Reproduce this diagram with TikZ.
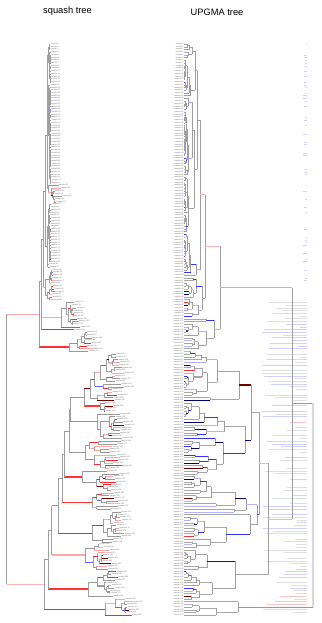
\documentclass[tikz,border=0pt]{standalone}
\usepackage{fontspec}
\setmainfont{Liberation Sans}
\tikzset{
  hl/.style={draw=gray!80, line width=0.4pt},
  vl/.style={draw=gray!75, line width=0.4pt},
  hlthick/.style={draw=gray!70, line width=1.3pt},
  vthick/.style={draw=gray!30, line width=1.6pt},
  pinkthick/.style={draw=red!35, line width=1.4pt},
  redthick/.style={draw=red!80, line width=1.4pt},
  dkredthick/.style={draw=red!45!black, line width=1.2pt},
  pinkl/.style={draw=red!30, line width=0.7pt},
  lav/.style={draw=blue!30, line width=0.8pt},
  bluel/.style={draw=blue!70, line width=0.6pt},
  lab/.style={font=\fontsize{1.9}{2}\selectfont, text=black!55, inner sep=0.3pt},
  ttl/.style={font=\fontsize{9.3}{11}\selectfont, inner sep=0pt},
}
\def\jit{10}
\newcommand\pickL{%
  \pgfmathrandominteger{\tcc}{1}{100}%
  \ifnum\tcc<52 \def\brc{gray!80}%
  \else\ifnum\tcc<76 \def\brc{red!35}%
  \else\ifnum\tcc<88 \def\brc{red!85}%
  \else\ifnum\tcc<95 \def\brc{red!45!black}%
  \else \def\brc{blue!60}\fi\fi\fi\fi
  \pgfmathrandominteger{\tww}{1}{100}%
  \ifnum\tww<80 \def\brw{0.4pt}\else\def\brw{1.2pt}\fi}
\newcommand\pickG{%
  \pgfmathrandominteger{\tcc}{1}{100}%
  \ifnum\tcc<86 \def\brc{gray!80}%
  \else\ifnum\tcc<94 \def\brc{red!40}%
  \else\ifnum\tcc<98 \def\brc{red!80}%
  \else \def\brc{blue!50}\fi\fi\fi
  \def\brw{0.35pt}}
\newcommand\pickR{%
  \pgfmathrandominteger{\tcc}{1}{100}%
  \ifnum\tcc<62 \def\brc{gray!70}%
  \else\ifnum\tcc<82 \def\brc{blue!30}%
  \else\ifnum\tcc<92 \def\brc{blue!80}%
  \else\ifnum\tcc<96 \def\brc{blue!45!black}%
  \else\ifnum\tcc<99 \def\brc{red!45!black}%
  \else \def\brc{red!80}\fi\fi\fi\fi\fi
  \pgfmathrandominteger{\tww}{1}{100}%
  \ifnum\tww<82 \def\brw{0.4pt}\else\def\brw{1.1pt}\fi}
\newcommand\pickRG{%
  \pgfmathrandominteger{\tcc}{1}{100}%
  \ifnum\tcc<82 \def\brc{gray!75}%
  \else\ifnum\tcc<96 \def\brc{blue!35}%
  \else \def\brc{blue!75}\fi\fi
  \def\brw{0.35pt}}
\newcommand\palG{\let\pick\pickG\def\jit{3}}
\newcommand\palL{\let\pick\pickL\def\jit{14}}
\newcommand\palR{\let\pick\pickR}
\newcommand\palRG{\let\pick\pickRG}
\let\pick\pickL
% left-growing subtree: [style]{first}{last}{xparent}{xnode}{target tip x}
\newcommand\lsub[6][]{%
  \begingroup
  \edef\tA{#2}\edef\tB{#3}\edef\tXP{#4}\edef\tXN{#5}\edef\tT{#6}%
  \ifnum\tA=\tB\relax
    \pgfmathsetmacro\tyy{44+2.72*\tA}%
    \pgfmathsetmacro\txx{max(\tT+(rnd-0.5)*\jit,\tXP+1)}%
    \pick
    \draw[draw=\brc, line width=0.4pt, #1] (\tXP,\tyy) -- (\txx,\tyy)
      node[lab, anchor=west] (L\tA) {sample \tA};%
    \xdef\retY{\tyy}%
  \else
    \pgfmathtruncatemacro\thi{\tB-1}%
    \pgfmathrandominteger{\tmr}{\tA}{\thi}%
    \pgfmathtruncatemacro\tmm{\tmr}%
    \pgfmathtruncatemacro\tmp{\tmm+1}%
    \pgfmathsetmacro\txc{\tXN+(0.15+0.35*rnd)*(\tT-\tXN)}%
    \lsub{\tA}{\tmm}{\tXN}{\txc}{\tT}\let\tya\retY
    \pgfmathsetmacro\txc{\tXN+(0.15+0.35*rnd)*(\tT-\tXN)}%
    \lsub{\tmp}{\tB}{\tXN}{\txc}{\tT}\let\tyb\retY
    \pgfmathsetmacro\tym{(\tya+\tyb)/2}%
    \draw[vl] (\tXN,\tya) -- (\tXN,\tyb);
    \pick
    \draw[draw=\brc, line width=\brw, #1] (\tXP,\tym) -- (\tXN,\tym);
    \xdef\retY{\tym}%
  \fi
  \endgroup}
% right-rooted ultrametric subtree: [style]{first}{last}{xparent}{xnode}, tips at 184
\newcommand\rsub[5][]{%
  \begingroup
  \edef\tA{#2}\edef\tB{#3}\edef\tXP{#4}\edef\tXN{#5}%
  \ifnum\tA=\tB\relax
    \pgfmathsetmacro\tyy{44+2.72*\tA}%
    \pick
    \draw[draw=\brc, line width=0.4pt, #1] (\tXP,\tyy) -- (184,\tyy)
      node[lab, anchor=east] (R\tA) {sample \tA};%
    \xdef\retY{\tyy}%
  \else
    \pgfmathtruncatemacro\thi{\tB-1}%
    \pgfmathrandominteger{\tmr}{\tA}{\thi}%
    \pgfmathtruncatemacro\tmm{\tmr}%
    \pgfmathtruncatemacro\tmp{\tmm+1}%
    \pgfmathsetmacro\txc{184+(0.45+0.4*rnd)*(\tXN-184)}%
    \rsub{\tA}{\tmm}{\tXN}{\txc}\let\tya\retY
    \pgfmathsetmacro\txc{184+(0.45+0.4*rnd)*(\tXN-184)}%
    \rsub{\tmp}{\tB}{\tXN}{\txc}\let\tyb\retY
    \pgfmathsetmacro\tym{(\tya+\tyb)/2}%
    \draw[vl] (\tXN,\tya) -- (\tXN,\tyb);
    \pick
    \draw[draw=\brc, line width=\brw, #1] (\tXP,\tym) -- (\tXN,\tym);
    \xdef\retY{\tym}%
  \fi
  \endgroup}
% manual joint: [hstyle][vstyle]{xparent}{xnode}{child 1}{child 2}
\NewDocumentCommand\cjoin{O{hl} O{vl} m m m m}{%
  \begingroup
  #5\let\tja\retY
  #6\let\tjb\retY
  \pgfmathsetmacro\tjm{(\tja+\tjb)/2}%
  \draw[#2] (#4,\tja) -- (#4,\tjb);
  \draw[#1] (#3,\tjm) -- (#4,\tjm);
  \xdef\retY{\tjm}%
  \endgroup}
\begin{document}
\begin{tikzpicture}[x=1pt, y=-1pt]
\pgfmathsetseed{7}
\fill[white] (0,0) rectangle (321,623);
\useasboundingbox (0,0) rectangle (321,623);
\node[ttl] (t1) at (67.5,11) {squash tree};
\node[ttl] (t2) at (217,12) {UPGMA tree};
% right-hand bars
\foreach \i in {0,...,210}{%
  \pgfmathsetmacro\byy{44+2.72*\i}%
  \pgfmathrandominteger{\bp}{1}{100}%
  \ifnum\i<95
    \ifnum\bp<50
      \pgfmathsetmacro\blen{1+3*rnd}%
      \draw[draw=blue!18, line width=0.5pt] ({307-\blen},\byy) -- (307,\byy);
    \fi
  \else
    \ifnum\bp<85
      \pgfmathsetmacro\blen{6+40*rnd}%
      \pgfmathrandominteger{\bq}{1}{100}%
      \ifnum\bq<64 \def\bcol{gray!25}\else\ifnum\bq<94 \def\bcol{blue!18}\else\def\bcol{red!22}\fi\fi
      \draw[draw=\bcol, line width=0.6pt] ({307-\blen},\byy) -- (307,\byy);
    \fi
  \fi}
% ---------------- squash tree ----------------
\cjoin{6.5}{6.5}{%
  \cjoin[pinkthick]{6.5}{39}{%
    \cjoin{39}{41}{%
      \cjoin{41}{43}{%
        \cjoin{43}{45}{%
          \cjoin{45}{47}{\palG\lsub{0}{51}{47}{47.5}{50}}{\palL\lsub{52}{58}{47}{48}{55}}%
        }{\palG\lsub{59}{82}{45}{47}{50}}%
      }{\palL\def\jit{5}\lsub{83}{94}{43}{45}{53}}%
    }{%
      \cjoin{41}{41.5}{\palL\lsub[pinkthick]{95}{104}{41.5}{61}{75}}{\palL\lsub{105}{105}{41.5}{73}{73}}%
    }%
  }{\palL\lsub[redthick]{106}{113}{39}{69}{88}}%
}{%
  \cjoin[pinkl]{6.5}{44}{%
    \cjoin{44}{48}{%
      \cjoin{48}{51.6}{%
        \cjoin{51.6}{58}{%
          \cjoin{58}{62}{%
            \cjoin{62}{64}{%
              \cjoin{64}{69}{%
                \cjoin{69}{70}{%
                  \cjoin{70}{84}{\palL\lsub{114}{131}{84}{90}{118}}{\palL\lsub[redthick]{132}{135}{84}{100}{108}}%
                }{\palL\lsub{136}{145}{70}{97}{118}}%
              }{\palL\lsub{146}{156}{69}{85}{115}}%
            }{\palL\lsub[redthick]{157}{164}{64}{82}{112}}%
          }{\palL\lsub[redthick]{165}{171}{62}{92}{115}}%
        }{\palL\lsub{172}{183}{58}{92}{118}}%
      }{\palL\lsub[pinkthick]{184}{193}{51.6}{85}{105}}%
    }{\palL\lsub[redthick]{194}{203}{48}{88}{112}}%
  }{\palL\lsub{204}{210}{44}{105}{128}}%
}
% ---------------- UPGMA tree ----------------
\cjoin[hl][vthick]{313}{313}{%
  \cjoin[hl]{313}{292}{%
    \cjoin[lav]{292}{220}{%
      \cjoin[pinkl]{220}{205}{%
        \cjoin[pinkl]{205}{200}{\palRG\rsub{0}{69}{200}{197}}{\palR\rsub{70}{85}{200}{196}}%
      }{\palR\rsub{86}{100}{205}{202}}%
    }{\palR\rsub{101}{112}{220}{214}}%
  }{%
    \cjoin[pinkl]{292}{268}{%
      \cjoin[pinkl]{268}{259}{%
        \cjoin[hlthick]{259}{251}{\palR\rsub[dkredthick]{113}{131}{251}{239}}{\palR\rsub{132}{158}{251}{245}}%
      }{%
        \cjoin[bluel]{259}{257}{\palR\rsub{159}{172}{257}{246}}{\palR\rsub{173}{185}{257}{250}}%
      }%
    }{\palR\rsub{186}{204}{268}{235}}%
  }%
}{\palR\rsub[hl]{205}{210}{313}{238}}
\end{tikzpicture}
\end{document}
